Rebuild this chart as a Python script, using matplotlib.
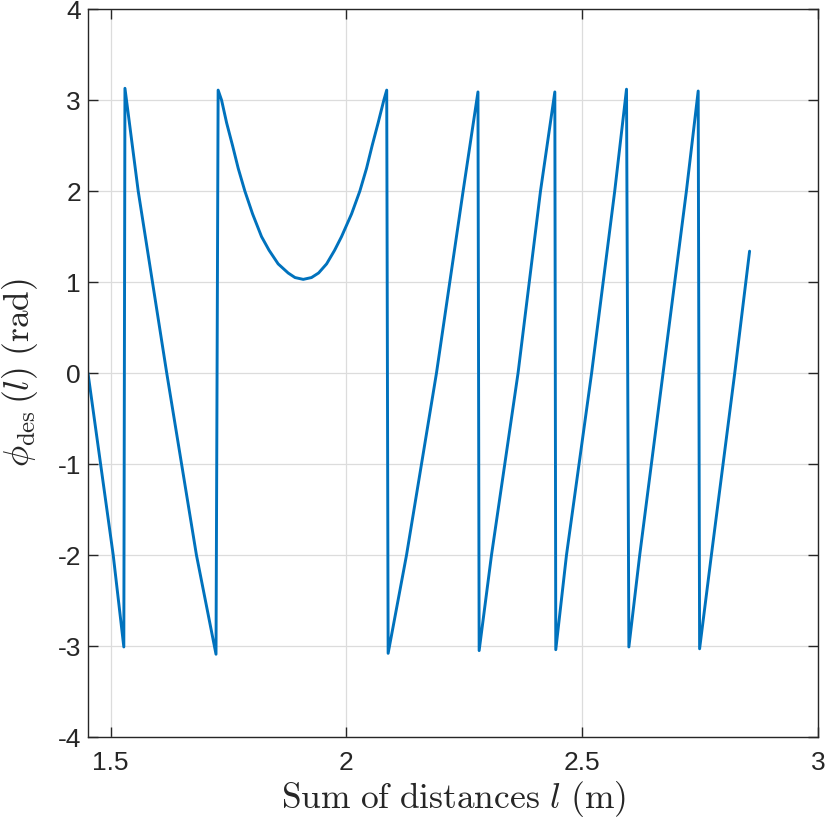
import matplotlib
matplotlib.use("Agg")
import matplotlib.pyplot as plt

# Sum of distances l (m) and desired phase (rad)
l_vals = [
    1.452, 1.5055, 1.528,
    1.5304, 1.5585, 1.619, 1.682, 1.7235,
    1.728, 1.7353, 1.746, 1.7586, 1.7706, 1.7847, 1.801, 1.820, 1.836, 1.8553, 1.8765, 1.891,
    1.9085,
    1.926, 1.941, 1.958, 1.975, 1.9897, 2.011, 2.0285, 2.0427, 2.0546, 2.0673, 2.0794, 2.0855,
    2.0885, 2.1275, 2.191, 2.2475, 2.279,
    2.2815, 2.3077, 2.364, 2.4116, 2.442,
    2.444, 2.4667, 2.520, 2.569, 2.594,
    2.599, 2.622, 2.6715, 2.721, 2.746,
    2.749, 2.774, 2.8235, 2.855,
]
phi_vals = [
    0.0, -2.0, -3.01,
    3.13, 2.0, 0.0, -2.0, -3.09,
    3.11, 3.0, 2.75, 2.5, 2.25, 2.0, 1.75, 1.5, 1.35, 1.2, 1.1, 1.05,
    1.03,
    1.05, 1.1, 1.2, 1.35, 1.5, 1.75, 2.0, 2.25, 2.5, 2.75, 3.0, 3.11,
    -3.08, -2.0, 0.0, 2.0, 3.09,
    -3.05, -2.0, 0.0, 2.0, 3.09,
    -3.04, -2.0, 0.0, 2.0, 3.12,
    -3.01, -2.0, 0.0, 2.0, 3.10,
    -3.03, -2.0, 0.0, 1.34,
]

x_ticks = [1.5, 2, 2.5, 3]
x_tick_labels = ["1.5", "2", "2.5", "3"]
y_ticks = [-4, -3, -2, -1, 0, 1, 2, 3, 4]
y_tick_labels = ["-4", "-3", "-2", "-1", "0", "1", "2", "3", "4"]

plt.rcParams["mathtext.fontset"] = "cm"
plt.rcParams["font.family"] = ["Liberation Sans", "DejaVu Sans"]
plt.rcParams["axes.unicode_minus"] = False

fig = plt.figure(figsize=(8.3, 8.3), dpi=100)
ax = fig.add_axes([0.106, 0.112, 0.8795, 0.877])

ax.plot(l_vals, phi_vals, color="#0072BD", linewidth=2.1,
        solid_joinstyle="round", solid_capstyle="round")

ax.set_xlim(1.452, 3.0)
ax.set_ylim(-4, 4)
ax.set_xticks(x_ticks)
ax.set_xticklabels(x_tick_labels)
ax.set_yticks(y_ticks)
ax.set_yticklabels(y_tick_labels)

ax.grid(True, color="#dcdcdc", linewidth=0.9)
ax.set_axisbelow(True)

for s in ax.spines.values():
    s.set_color("#262626")
    s.set_linewidth(1.0)

ax.tick_params(direction="in", length=7, width=1.0, top=True, right=True,
               colors="#262626", labelsize=19)
ax.tick_params(axis="x", pad=10)
ax.tick_params(axis="y", pad=5)

ax.set_xlabel(r"$\mathrm{Sum\ of\ distances}\ l\ \mathrm{(m)}$", fontsize=25.5, color="#262626")
ax.set_ylabel(r"$\phi_{\mathrm{des}}\,(l)\ \mathrm{(rad)}$", fontsize=25.5, color="#262626")
ax.xaxis.set_label_coords(0.5, -0.057)
ax.yaxis.set_label_coords(-0.066, 0.5)

fig.savefig("out.png", dpi=100)
